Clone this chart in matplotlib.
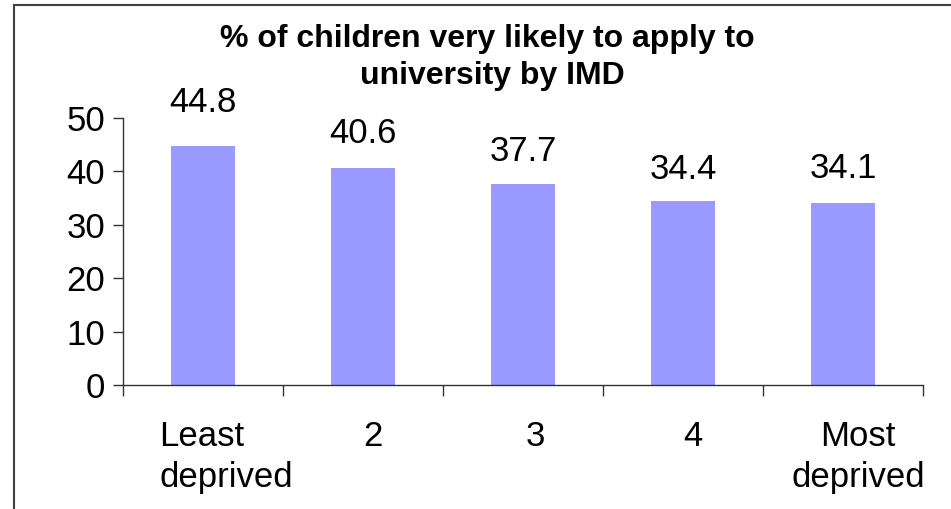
import matplotlib
matplotlib.use("Agg")
import matplotlib.pyplot as plt
import matplotlib.transforms as mtransforms
from matplotlib.lines import Line2D

plt.rcParams["font.family"] = ["Liberation Sans", "DejaVu Sans"]

## 데이터
categories = ["Least\ndeprived", "2", "3", "4", "Most\ndeprived"]
values = [44.8, 40.6, 37.7, 34.4, 34.1]
y_ticks = [0, 10, 20, 30, 40, 50]
title = "% of children very likely to apply to \nuniversity by IMD"

## 스타일
bar_color = "#9999FF"
axis_color = "#333333"
label_gap = [19, 13, 11, 11, 13]   # 막대 위 값 라벨 간격 (pt)
tick_shift = [23, 10, 12, 10, 15]  # x축 라벨 가로 이동 (px)
fs = 25

fig = plt.figure(figsize=(9.51, 5.09), dpi=100)
ax = fig.add_axes([123 / 951, 1 - 385 / 509, 800 / 951, 267 / 509])

x = list(range(len(values)))
bars = ax.bar(x, values, width=0.4, color=bar_color, zorder=2)

# 값 라벨
for b, v, g in zip(bars, values, label_gap):
    ax.annotate(f"{v}", (b.get_x() + b.get_width() / 2, v),
                xytext=(0, g), textcoords="offset points",
                ha="center", va="bottom", fontsize=fs)

ax.set_xlim(-0.5, len(values) - 0.5)
ax.set_ylim(0, 50)
ax.set_yticks(y_ticks)
ax.tick_params(axis="y", labelsize=fs, length=7, width=1,
               color=axis_color, pad=6)

# x축: 라벨은 major, 눈금은 카테고리 경계(minor)
ax.set_xticks(x)
ax.set_xticklabels(categories, fontsize=fs, linespacing=1.3)
ax.set_xticks([i - 0.5 for i in range(len(values) + 1)], minor=True)
ax.tick_params(axis="x", which="major", length=0, pad=25)
ax.tick_params(axis="x", which="minor", length=8, width=1,
               color=axis_color, direction="out")

for lbl, s in zip(ax.get_xticklabels(), tick_shift):
    shift = mtransforms.ScaledTranslation(s / 100, 0, fig.dpi_scale_trans)
    lbl.set_transform(lbl.get_transform() + shift)
ax.get_xticklabels()[0].set_multialignment("left")

for side in ["top", "right"]:
    ax.spines[side].set_visible(False)
for side in ["left", "bottom"]:
    ax.spines[side].set_color(axis_color)
    ax.spines[side].set_linewidth(1)

# 제목
fig.text(492 / 951, 1 - 84 / 509, title, ha="center", va="baseline",
         fontsize=23, fontweight="bold", linespacing=1.3)

# 차트 테두리 (위, 왼쪽만 보임)
fig.add_artist(Line2D([14 / 951, 1.0], [1 - 5 / 509, 1 - 5 / 509],
                      transform=fig.transFigure, color="#404040", lw=1.5))
fig.add_artist(Line2D([14 / 951, 14 / 951], [0.0, 1 - 5 / 509],
                      transform=fig.transFigure, color="#404040", lw=1.5))

fig.savefig("out.png", dpi=100, facecolor="white")
